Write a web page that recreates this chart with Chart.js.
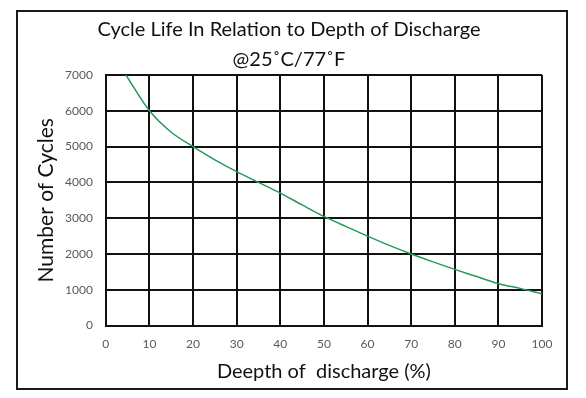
<!DOCTYPE html>
<html>
<head>
<meta charset="UTF-8">
<title>Cycle Life</title>
<style>
	body { margin: 0; background: #fff; }
	#wrap { position: relative; width: 586px; height: 398px; }
	#frame { position: absolute; left: 16px; top: 10px; width: 548px; height: 376px; border: 2px solid #1a1a1a; }
	#cycleChart { position: absolute; left: 0; top: 0; }
</style>
</head>
<body>
	<div id="wrap">
		<div id="frame"></div>
		<canvas id="cycleChart" width="586" height="398"></canvas>
	</div>
</body>
<script src="https://cdn.jsdelivr.net/npm/chart.js@4.4.0/dist/chart.umd.min.js"></script>
<script type="text/javascript">
// depth of discharge (%) and number of cycles
const depth = [4.6, 10, 15, 20, 25, 30, 35, 40, 45, 50, 55, 60, 65, 70, 75, 80, 85, 90, 95, 100];
const cycles = [7000, 6000, 5400, 5000, 4630, 4300, 4000, 3700, 3370, 3050, 2770, 2500, 2240, 2000, 1780, 1570, 1370, 1170, 1040, 890];
const titleLines = ['Cycle Life In Relation to Depth of Discharge', '@25˚C/77˚F'];
const xTitle = 'Deepth of  discharge (%)';
const yTitle = 'Number of Cycles';

const font = 'Lato, "Open Sans", sans-serif';

let ctx = document.getElementById('cycleChart').getContext('2d');
let chart = new Chart(ctx, {
	type: 'line',
	data: {
		datasets: [{
			data: depth.map((d, i) => ({x: d, y: cycles[i]})),
			borderColor: 'rgb(34, 155, 90)',
			borderWidth: 1.5,
			pointRadius: 0,
			cubicInterpolationMode: 'monotone',
			fill: false
		}]
	},
	options: {
		responsive: false,
		animation: false,
		layout: { padding: { left: 36, right: 44, top: 15, bottom: 16 } },
		plugins: {
			legend: { display: false },
			tooltip: { enabled: false },
			title: {
				display: true,
				text: titleLines,
				color: '#111',
				font: { family: font, size: 20, weight: 'normal', lineHeight: 1.5 },
				padding: { top: 0, bottom: 0 }
			}
		},
		scales: {
			x: {
				type: 'linear',
				min: 0, max: 100,
				ticks: { stepSize: 10, color: '#595959', padding: 11, font: { family: font, size: 12 },
					callback: v => String(v) },
				grid: { color: '#111', lineWidth: 2, drawTicks: false },
				border: { color: '#111', width: 2 },
				title: { display: true, text: xTitle, color: '#111', font: { family: font, size: 20, lineHeight: 1 },
					padding: { top: 0, bottom: 0 } }
			},
			y: {
				min: 0, max: 7000,
				ticks: { stepSize: 1000, color: '#595959', padding: 13, font: { family: font, size: 12 },
					callback: v => String(v) },
				grid: { color: '#111', lineWidth: 2, drawTicks: false },
				border: { color: '#111', width: 2 },
				title: { display: true, text: yTitle, color: '#111', font: { family: font, size: 21, lineHeight: 1 },
					padding: { top: 0, bottom: -5 } }
			}
		}
	}
});
</script>
</html>
